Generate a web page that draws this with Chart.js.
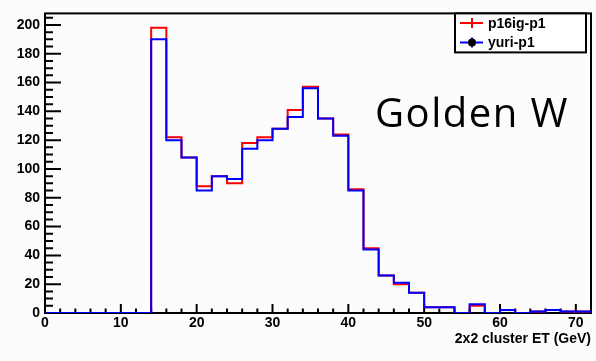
<!DOCTYPE html>
<html>
<head>
<meta charset="utf-8">
<script src="https://cdn.jsdelivr.net/npm/chart.js@4.4.1/dist/chart.umd.min.js"></script>
<style>
  html, body { margin: 0; padding: 0; background: #fcfcfc; }
  #wrap { width: 596px; height: 361px; position: relative; }
</style>
</head>
<body>
<div id="wrap"><canvas id="histo"></canvas></div>
<script>
// bins are 2 GeV wide, left edges listed here
const binStarts = [0, 2, 4, 6, 8, 10, 12, 14, 16, 18, 20, 22, 24, 26, 28, 30, 32, 34,
  36, 38, 40, 42, 44, 46, 48, 50, 52, 54, 56, 58, 60, 62, 64, 66, 68, 70];
const binEnd = 72;

const p16igCounts = [0, 0, 0, 0, 0, 0, 0, 198, 122, 108, 88, 95, 90, 118, 122, 128, 141, 157,
  135, 124, 86, 45, 26, 20, 14, 4, 4, 0, 5, 0, 2, 0, 1, 2, 1, 1];
const yuriCounts = [0, 0, 0, 0, 0, 0, 0, 190, 120, 108, 85, 95, 93, 114, 120, 128, 136, 156,
  135, 123, 85, 44, 26, 21, 14, 4, 4, 0, 6, 0, 2, 0, 1, 2, 1, 1];

const seriesNames = ['p16ig-p1', 'yuri-p1'];
const xTicks = [0, 10, 20, 30, 40, 50, 60, 70];
const yTicks = [0, 20, 40, 60, 80, 100, 120, 140, 160, 180, 200];
const xTitle = '2x2 cluster ET (GeV)';
const noteText = 'Golden W';

Chart.defaults.font.family = '"Liberation Sans", Arial, sans-serif';
const axisFont = { size: 14, weight: 'bold' };

// point at each left edge, plus the closing edge; 'before' stepping holds
// a bin's count until the next edge
function toSteps(counts) {
  const pts = binStarts.map((x, i) => ({ x: x, y: counts[i] }));
  pts.push({ x: binEnd, y: counts[counts.length - 1] });
  return pts;
}

// ROOT-like frame: ticks inside the pad, legend box, text label
const rootStyle = {
  id: 'rootStyle',
  beforeDatasetsDraw(chart) {
    const { ctx, chartArea: a, scales: { x, y } } = chart;
    ctx.save();
    ctx.strokeStyle = '#000';
    ctx.lineWidth = 2;
    ctx.strokeRect(a.left, a.top, a.right - a.left, a.bottom - a.top);
    ctx.beginPath();
    for (let v = 2; v < x.max; v += 2) {
      const px = x.getPixelForValue(v);
      const len = v % 10 === 0 ? 9 : 4.5;
      ctx.moveTo(px, a.bottom);
      ctx.lineTo(px, a.bottom - len);
    }
    for (let v = 5; v < y.max; v += 5) {
      const py = y.getPixelForValue(v);
      const len = v % 20 === 0 ? 16 : 8;
      ctx.moveTo(a.left, py);
      ctx.lineTo(a.left + len, py);
    }
    ctx.stroke();
    ctx.restore();
  },
  afterDraw(chart) {
    const { ctx, chartArea: a } = chart;
    ctx.save();

    // legend box
    const bx = a.right - 136, by = a.top, bw = 131, bh = 39;
    ctx.fillStyle = '#ffffff';
    ctx.fillRect(bx, by, bw, bh);
    ctx.strokeStyle = '#000';
    ctx.lineWidth = 2;
    ctx.strokeRect(bx, by, bw, bh);

    const colors = chart.data.datasets.map((d) => d.borderColor);
    const rows = [by + 9.5, by + 29];
    ctx.font = 'bold 14px "Liberation Sans", Arial, sans-serif';
    ctx.textBaseline = 'middle';
    rows.forEach((ry, i) => {
      ctx.strokeStyle = colors[i];
      ctx.lineWidth = 2;
      ctx.beginPath();
      ctx.moveTo(bx + 5, ry);
      ctx.lineTo(bx + 28, ry);
      ctx.moveTo(bx + 17, ry - 5);
      ctx.lineTo(bx + 17, ry + 5);
      ctx.stroke();
      if (i === 1) {
        ctx.fillStyle = '#000';
        ctx.beginPath();
        ctx.arc(bx + 17, ry, 4, 0, Math.PI * 2);
        ctx.fill();
      }
      ctx.fillStyle = '#000';
      ctx.fillText(seriesNames[i], bx + 33, ry + 1);
    });

    // annotation
    ctx.font = '40px "Open Sans", sans-serif';
    ctx.letterSpacing = '1.5px';
    ctx.textBaseline = 'alphabetic';
    ctx.fillStyle = '#000';
    ctx.fillText(noteText, 375, 127);
    ctx.restore();
  },
};

new Chart(document.getElementById('histo'), {
  type: 'line',
  data: {
    datasets: [
      {
        label: seriesNames[0],
        data: toSteps(p16igCounts),
        borderColor: '#ff0000',
        order: 2,
      },
      {
        label: seriesNames[1],
        data: toSteps(yuriCounts),
        borderColor: '#0000ff',
        order: 1,
      },
    ],
  },
  options: {
    responsive: true,
    maintainAspectRatio: false,
    animation: false,
    layout: { padding: { top: 10, right: 5, left: 0, bottom: 0 } },
    elements: {
      point: { radius: 0 },
      line: { borderWidth: 2, stepped: 'before', fill: false, tension: 0 },
    },
    plugins: {
      legend: { display: false },
      tooltip: { enabled: false },
    },
    scales: {
      x: {
        type: 'linear',
        min: 0,
        max: binEnd,
        afterBuildTicks: (s) => { s.ticks = xTicks.map((v) => ({ value: v })); },
        afterFit: (s) => { s.height = 48; },
        grid: { display: false, drawTicks: false },
        border: { display: false },
        ticks: { color: '#000', font: axisFont, padding: 2, maxRotation: 0, autoSkip: false },
        title: {
          display: true,
          text: xTitle,
          align: 'end',
          color: '#000',
          font: axisFont,
          padding: { top: 0, bottom: 13 },
        },
      },
      y: {
        type: 'linear',
        min: 0,
        max: 208,
        afterBuildTicks: (s) => { s.ticks = yTicks.map((v) => ({ value: v })); },
        afterFit: (s) => { s.width = 45; },
        grid: { display: false, drawTicks: false },
        border: { display: false },
        ticks: { color: '#000', font: axisFont, padding: 5, autoSkip: false },
      },
    },
  },
  plugins: [rootStyle],
});
</script>
</body>
</html>
